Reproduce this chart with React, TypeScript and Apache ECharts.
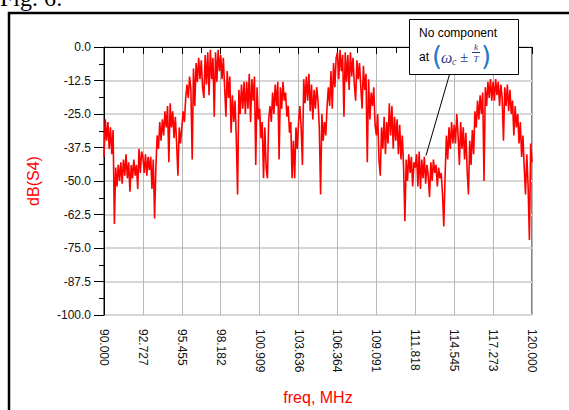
import React, { useEffect, useRef } from "react";
import * as echarts from "echarts";

// Frequency sweep 90 MHz .. 120 MHz, 331 sweep points (index 0..330)
const sweepPoints = 331;
const xTickLabels = [
  "90.000", "92.727", "95.455", "98.182", "100.909", "103.636",
  "106.364", "109.091", "111.818", "114.545", "117.273", "120.000",
];
const yTickLabels = [
  "-100.0", "-87.5", "-75.0", "-62.5", "-50.0", "-37.5", "-25.0", "-12.5", "0.0",
];

// dB(S4), one value per sweep point
const s4dB = [
  // 90.000 - 92.727
  -41, -27, -35, -28, -38, -30, -40, -31, -66, -45, -52, -44, -50, -43, -51, -42, -48, -40, -49, -43, -54, -44, -49, -42, -48, -44, -53, -38, -47, -39,
  // 92.727 - 95.455
  -41, -47, -40, -48, -41, -46, -41, -53, -42, -64, -45, -33, -38, -28, -35, -27, -33, -24, -30, -22, -43, -21, -30, -24, -34, -26, -36, -48, -30, -36,
  // 95.455 - 98.182
  -30, -24, -28, -19, -14, -19, -11, -16, -42, -8, -22, -6, -13, -4, -12, -5, -15, -19, -3, -14, -2, -18, -1, -12, -4, -26, -2, -13, -1, -9,
  // 98.182 - 100.909
  -3, -12, -4, -15, -26, -9, -19, -11, -32, -18, -28, -20, -34, -55, -16, -25, -14, -23, -13, -25, -13, -23, -10, -28, -12, -20, -11, -44, -15, -27,
  // 100.909 - 103.636
  -23, -34, -28, -49, -30, -45, -49, -27, -22, -28, -17, -25, -14, -22, -13, -42, -15, -23, -13, -20, -17, -26, -22, -32, -28, -49, -35, -49, -30, -38,
  // 103.636 - 106.364
  -28, -22, -30, -44, -12, -21, -11, -20, -10, -24, -14, -27, -16, -23, -15, -20, -30, -55, -25, -35, -28, -33, -22, -15, -22, -9, -23, -6, -15, -4,
  // 106.364 - 109.091
  -2, -12, -1, -9, -3, -26, -2, -13, -3, -16, -2, -11, -4, -14, -20, -5, -12, -6, -15, -23, -7, -16, -10, -43, -12, -27, -17, -22, -15, -29,
  // 109.091 - 111.818
  -33, -25, -42, -48, -30, -38, -26, -40, -28, -36, -21, -33, -22, -38, -26, -35, -27, -40, -29, -42, -33, -45, -65, -42, -50, -40, -47, -41, -52, -43,
  // 111.818 - 114.545
  -45, -40, -52, -39, -53, -42, -49, -41, -51, -44, -48, -56, -43, -50, -42, -47, -44, -52, -45, -49, -47, -55, -67, -48, -33, -42, -30, -38, -28, -36,
  // 114.545 - 117.273
  -29, -36, -25, -33, -44, -28, -38, -30, -42, -32, -46, -55, -35, -44, -31, -40, -24, -30, -20, -27, -18, -25, -17, -50, -15, -22, -13, -19, -12, -20,
  // 117.273 - 120.000
  -13, -20, -12, -18, -13, -22, -14, -19, -35, -15, -22, -14, -24, -16, -25, -20, -33, -22, -30, -25, -36, -28, -41, -33, -45, -55, -40, -52, -72, -36, -43,
];

const FONT = "Liberation Sans, Arial, sans-serif";

export default function App() {
  const ref = useRef<HTMLDivElement>(null);

  useEffect(() => {
    if (!ref.current) return;
    const chart = echarts.init(ref.current, undefined, { renderer: "svg" });
    const lastIdx = sweepPoints - 1;
    const xStep = lastIdx / (xTickLabels.length - 1);
    const data = s4dB.map((v, i) => [i, v]);

    chart.setOption({
      animation: false,
      backgroundColor: "#ffffff",
      grid: {
        left: 104,
        top: 47,
        width: 428,
        height: 270,
        show: true,
        borderColor: "#000000",
        borderWidth: 1,
        backgroundColor: "transparent",
      },
      xAxis: {
        type: "value",
        min: 0,
        max: lastIdx,
        interval: xStep,
        name: "freq, MHz",
        nameLocation: "middle",
        nameGap: 74,
        nameTextStyle: { color: "#ff0000", fontSize: 16, fontFamily: FONT },
        axisLine: { show: true, lineStyle: { color: "#000000", width: 1 } },
        axisTick: { show: true, inside: false, length: 7, lineStyle: { color: "#000000" } },
        minorTick: { show: true, splitNumber: 2, length: 6, lineStyle: { color: "#000000" } },
        axisLabel: {
          rotate: -90,
          margin: 14,
          color: "#111111",
          fontSize: 12,
          fontFamily: FONT,
          formatter: (v: number) => xTickLabels[Math.round(v / xStep)] ?? "",
        },
        splitLine: { show: true, lineStyle: { color: "#b8b8b8", width: 1 } },
      },
      yAxis: {
        type: "value",
        min: -100,
        max: 0,
        interval: 12.5,
        name: "dB(S4)",
        nameLocation: "middle",
        nameGap: 63,
        nameTextStyle: { color: "#ff0000", fontSize: 16, fontFamily: FONT },
        axisLine: { show: true, lineStyle: { color: "#000000", width: 1 } },
        axisTick: { show: true, inside: false, length: 10, lineStyle: { color: "#000000" } },
        minorTick: { show: true, splitNumber: 2, length: 5, lineStyle: { color: "#000000" } },
        axisLabel: {
          margin: 13,
          color: "#111111",
          fontSize: 12,
          fontFamily: FONT,
          formatter: (v: number) => yTickLabels[Math.round((v + 100) / 12.5)] ?? "",
        },
        splitLine: { show: true, lineStyle: { color: "#d6d6d6", width: 2 } },
      },
      series: [
        {
          type: "line",
          data,
          showSymbol: false,
          symbol: "none",
          lineStyle: { color: "#ff0000", width: 1.6 },
          z: 3,
        },
      ],
      graphic: [
        {
          type: "text",
          x: 0,
          y: 10,
          style: {
            text: "Fig. 6:",
            font: "24px 'Liberation Serif', serif",
            fill: "#000000",
            textVerticalAlign: "bottom",
          },
          z: 50,
        },
        {
          type: "polyline",
          shape: { points: [[9, 420], [9, 13], [580, 13]] },
          style: { stroke: "#000000", lineWidth: 2.5, fill: "none" },
          z: 50,
        },
        {
          type: "line",
          shape: { x1: 449.5, y1: 74.5, x2: 426, y2: 155.5 },
          style: { stroke: "#000000", lineWidth: 1 },
          z: 60,
        },
        {
          type: "rect",
          shape: { x: 409.5, y: 19.5, width: 109, height: 55 },
          style: { fill: "#ffffff", stroke: "#000000", lineWidth: 1 },
          z: 60,
        },
        {
          type: "text",
          x: 419,
          y: 33,
          style: { text: "No component", font: "12px " + FONT, fill: "#000000", textVerticalAlign: "middle" },
          z: 61,
        },
        {
          type: "text",
          x: 419,
          y: 57,
          style: { text: "at", font: "12px " + FONT, fill: "#000000", textVerticalAlign: "middle" },
          z: 61,
        },
        {
          type: "text",
          x: 432,
          y: 56,
          style: { text: "(", font: "26px 'DejaVu Sans', sans-serif", fill: "#2a78c8", textVerticalAlign: "middle" },
          z: 61,
        },
        {
          type: "text",
          x: 441,
          y: 57,
          style: { text: "ω", font: "italic 16px 'Liberation Serif', serif", fill: "#1f3a8a", textVerticalAlign: "middle" },
          z: 61,
        },
        {
          type: "text",
          x: 452,
          y: 61,
          style: { text: "c", font: "italic 10px 'Liberation Serif', serif", fill: "#1f3a8a", textVerticalAlign: "middle" },
          z: 61,
        },
        {
          type: "text",
          x: 460,
          y: 57,
          style: { text: "±", font: "15px 'Liberation Serif', serif", fill: "#1f3a8a", textVerticalAlign: "middle" },
          z: 61,
        },
        {
          type: "text",
          x: 476,
          y: 47,
          style: { text: "k", font: "italic 9px 'Liberation Serif', serif", fill: "#1f3a8a", textAlign: "center", textVerticalAlign: "middle" },
          z: 61,
        },
        {
          type: "line",
          shape: { x1: 472, y1: 52.5, x2: 480, y2: 52.5 },
          style: { stroke: "#1f3a8a", lineWidth: 1 },
          z: 61,
        },
        {
          type: "text",
          x: 476,
          y: 59,
          style: { text: "T", font: "italic 9px 'Liberation Serif', serif", fill: "#1f3a8a", textAlign: "center", textVerticalAlign: "middle" },
          z: 61,
        },
        {
          type: "text",
          x: 481,
          y: 56,
          style: { text: ")", font: "26px 'DejaVu Sans', sans-serif", fill: "#2a78c8", textVerticalAlign: "middle" },
          z: 61,
        },
      ],
    });

    return () => chart.dispose();
  }, []);

  return (
    <div
      ref={ref}
      style={{ position: "fixed", left: 0, top: 0, width: 569, height: 410 }}
    />
  );
}
